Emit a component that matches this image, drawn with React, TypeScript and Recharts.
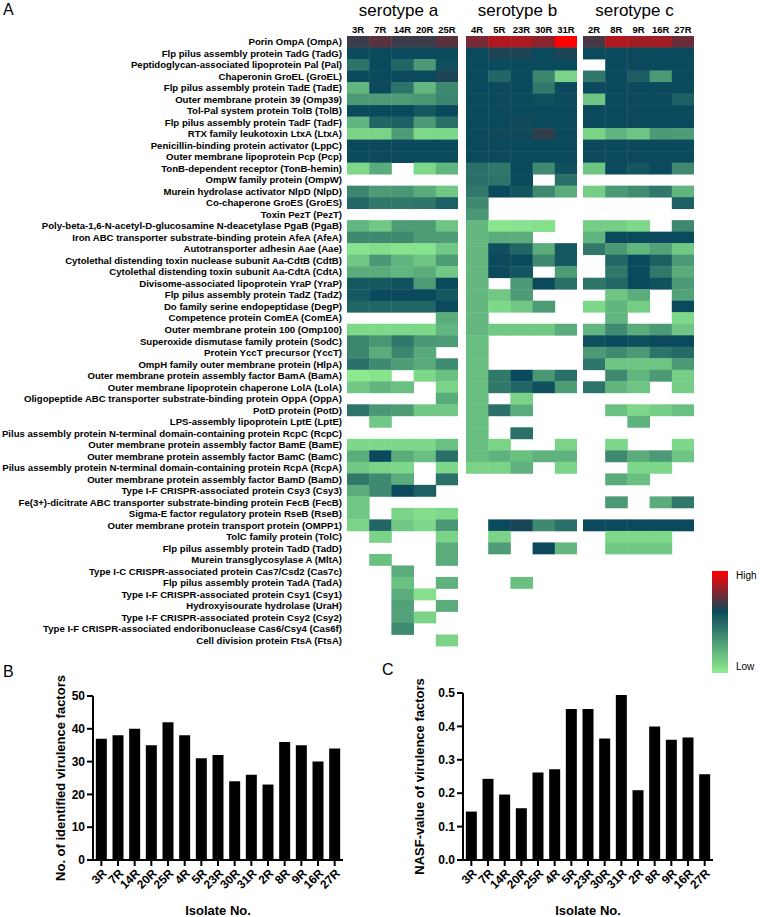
import React from "react";
import { Bar, BarChart, Scatter, ScatterChart, XAxis, YAxis } from "recharts";

const FONT = "'Liberation Sans', Arial, Helvetica, sans-serif";

const proteins = [
  "Porin OmpA (OmpA)",
  "Flp pilus assembly protein TadG (TadG)",
  "Peptidoglycan-associated lipoprotein Pal (Pal)",
  "Chaperonin GroEL (GroEL)",
  "Flp pilus assembly protein TadE (TadE)",
  "Outer membrane protein 39 (Omp39)",
  "Tol-Pal system protein TolB (TolB)",
  "Flp pilus assembly protein TadF (TadF)",
  "RTX family leukotoxin LtxA (LtxA)",
  "Penicillin-binding protein activator (LppC)",
  "Outer membrane lipoprotein Pcp (Pcp)",
  "TonB-dependent receptor (TonB-hemin)",
  "OmpW family protein (OmpW)",
  "Murein hydrolase activator NlpD (NlpD)",
  "Co-chaperone GroES (GroES)",
  "Toxin PezT (PezT)",
  "Poly-beta-1,6-N-acetyl-D-glucosamine N-deacetylase PgaB (PgaB)",
  "Iron ABC transporter substrate-binding protein AfeA (AfeA)",
  "Autotransporter adhesin Aae (Aae)",
  "Cytolethal distending toxin nuclease subunit Aa-CdtB (CdtB)",
  "Cytolethal distending toxin subunit Aa-CdtA (CdtA)",
  "Divisome-associated lipoprotein YraP (YraP)",
  "Flp pilus assembly protein TadZ (TadZ)",
  "Do family serine endopeptidase (DegP)",
  "Competence protein ComEA (ComEA)",
  "Outer membrane protein 100 (Omp100)",
  "Superoxide dismutase family protein (SodC)",
  "Protein YccT precursor (YccT)",
  "OmpH family outer membrane protein (HlpA)",
  "Outer membrane protein assembly factor BamA (BamA)",
  "Outer membrane lipoprotein chaperone LolA (LolA)",
  "Oligopeptide ABC transporter substrate-binding protein OppA (OppA)",
  "PotD protein (PotD)",
  "LPS-assembly lipoprotein LptE (LptE)",
  "Pilus assembly protein N-terminal domain-containing protein RcpC (RcpC)",
  "Outer membrane protein assembly factor BamE (BamE)",
  "Outer membrane protein assembly factor BamC (BamC)",
  "Pilus assembly protein N-terminal domain-containing protein RcpA (RcpA)",
  "Outer membrane protein assembly factor BamD (BamD)",
  "Type I-F CRISPR-associated protein Csy3 (Csy3)",
  "Fe(3+)-dicitrate ABC transporter substrate-binding protein FecB (FecB)",
  "Sigma-E factor regulatory protein RseB (RseB)",
  "Outer membrane protein transport protein (OMPP1)",
  "TolC family protein (TolC)",
  "Flp pilus assembly protein TadD (TadD)",
  "Murein transglycosylase A (MltA)",
  "Type I-C CRISPR-associated protein Cas7/Csd2 (Cas7c)",
  "Flp pilus assembly protein TadA (TadA)",
  "Type I-F CRISPR-associated protein Csy1 (Csy1)",
  "Hydroxyisourate hydrolase (UraH)",
  "Type I-F CRISPR-associated protein Csy2 (Csy2)",
  "Type I-F CRISPR-associated endoribonuclease Cas6/Csy4 (Cas6f)",
  "Cell division protein FtsA (FtsA)",
];

const serotypeNames = ["serotype a", "serotype b", "serotype c"];
const isolatesA = ["3R", "7R", "14R", "20R", "25R"];
const isolatesB = ["4R", "5R", "23R", "30R", "31R"];
const isolatesC = ["2R", "8R", "9R", "16R", "27R"];

// relative abundance, 0 = low (light green) ... 1 = high (red); null = not detected
const _ = null;
const valuesA = [
  [0.68, 0.73, 0.68, 0.68, 0.73],
  [0.6, 0.6, 0.6, 0.6, 0.6],
  [0.45, 0.6, 0.5, 0.31, 0.58],
  [0.6, 0.6, 0.6, 0.6, 0.63],
  [0.21, 0.6, 0.45, 0.2, 0.37],
  [0.31, 0.3, 0.3, 0.32, 0.38],
  [0.6, 0.6, 0.6, 0.55, 0.6],
  [0.21, 0.5, 0.52, 0.31, 0.46],
  [0.1, 0.1, 0.3, 0.08, 0.08],
  [0.6, 0.6, 0.6, 0.6, 0.6],
  [0.6, 0.6, 0.6, 0.6, 0.6],
  [0.08, 0.24, _, 0.08, 0.21],
  [_, _, _, _, _],
  [0.38, 0.3, 0.32, 0.24, 0.14],
  [0.49, 0.43, 0.43, 0.44, 0.52],
  [_, _, _, _, _],
  [0.21, 0.14, 0.3, 0.3, 0.15],
  [0.37, 0.37, 0.37, 0.3, 0.3],
  [0.04, 0.06, 0.04, 0.04, 0.14],
  [0.14, 0.32, 0.21, 0.15, 0.3],
  [0.24, 0.24, 0.21, 0.24, 0.14],
  [0.55, 0.55, 0.57, 0.3, 0.6],
  [0.55, 0.6, 0.6, 0.6, 0.55],
  [0.5, 0.5, 0.5, 0.5, 0.6],
  [_, _, _, _, 0.24],
  [0.08, 0.08, 0.08, 0.08, 0.21],
  [0.38, 0.32, 0.43, 0.32, 0.3],
  [0.38, 0.24, 0.38, 0.25, _],
  [0.46, 0.37, 0.3, 0.25, 0.36],
  [0.02, 0.04, _, 0.08, 0.17],
  [0.14, 0.21, 0.17, _, 0.1],
  [_, _, _, _, 0.24],
  [0.45, 0.32, 0.3, 0.14, 0.14],
  [_, 0.14, _, _, _],
  [_, _, _, _, _],
  [0.08, 0.08, 0.08, 0.08, 0.17],
  [0.24, 0.6, 0.24, 0.17, 0.46],
  [0.14, 0.1, 0.08, _, 0.08],
  [0.43, 0.37, 0.24, _, 0.46],
  [0.24, 0.37, 0.6, 0.52, _],
  [0.14, _, _, _, _],
  [0.14, _, 0.1, 0.06, 0.08],
  [0.1, 0.5, 0.14, 0.08, 0.32],
  [_, 0.1, _, _, 0.1],
  [_, _, _, _, 0.24],
  [_, 0.17, _, _, 0.24],
  [_, _, 0.24, _, _],
  [_, _, 0.17, _, 0.22],
  [_, _, 0.24, 0.05, _],
  [_, _, 0.28, _, 0.24],
  [_, _, 0.28, 0.1, _],
  [_, _, 0.36, _, _],
  [_, _, _, _, 0.1],
];
const valuesB = [
  [0.78, 0.87, 0.86, 0.81, 1.0],
  [0.6, 0.63, 0.63, 0.6, 0.63],
  [0.6, 0.6, 0.6, 0.6, 0.6],
  [0.6, 0.5, 0.6, 0.38, 0.1],
  [0.6, 0.6, 0.6, 0.43, 0.6],
  [0.6, 0.6, 0.6, 0.58, 0.6],
  [0.6, 0.6, 0.6, 0.6, 0.6],
  [0.6, 0.6, 0.61, 0.6, 0.6],
  [0.6, 0.61, 0.61, 0.66, 0.6],
  [0.6, 0.6, 0.6, 0.6, 0.6],
  [0.6, 0.6, 0.6, 0.6, 0.6],
  [0.46, 0.43, 0.6, 0.37, 0.58],
  [0.46, 0.45, 0.6, _, 0.46],
  [0.43, 0.6, 0.56, 0.37, 0.24],
  [0.37, _, _, _, _],
  [0.32, _, _, _, _],
  [0.2, 0.03, 0.04, 0.05, _],
  [0.2, 0.24, 0.24, _, _],
  [0.2, 0.58, 0.5, 0.24, 0.55],
  [0.2, 0.6, 0.6, 0.37, 0.55],
  [0.2, 0.6, 0.56, _, 0.3],
  [0.2, _, 0.31, 0.6, 0.46],
  [0.2, 0.14, 0.3, _, _],
  [0.2, 0.08, 0.14, 0.3, _],
  [0.2, _, _, _, _],
  [0.2, 0.14, 0.14, 0.14, 0.24],
  [0.18, _, _, _, _],
  [0.18, _, _, _, _],
  [0.18, _, _, _, _],
  [0.18, 0.43, 0.6, 0.32, 0.46],
  [0.18, 0.43, 0.5, 0.58, 0.3],
  [0.18, _, 0.1, _, _],
  [0.18, 0.46, 0.24, _, _],
  [0.18, _, _, _, _],
  [0.18, _, 0.46, _, _],
  [0.18, 0.1, _, _, 0.1],
  [0.18, 0.22, 0.17, 0.22, 0.22],
  [0.1, 0.1, 0.22, _, 0.1],
  [_, _, _, _, _],
  [_, _, _, _, _],
  [_, _, _, _, _],
  [_, _, _, _, _],
  [_, 0.6, 0.62, 0.37, 0.46],
  [_, 0.1, _, _, _],
  [_, 0.3, _, 0.6, 0.2],
  [_, _, _, _, _],
  [_, _, _, _, _],
  [_, _, 0.17, _, _],
  [_, _, _, _, _],
  [_, _, _, _, _],
  [_, _, _, _, _],
  [_, _, _, _, _],
  [_, _, _, _, _],
];
const valuesC = [
  [0.7, 0.87, 0.845, 0.845, 0.755],
  [0.6, 0.6, 0.6, 0.6, 0.6],
  [_, 0.6, 0.6, 0.6, 0.6],
  [0.43, 0.6, 0.53, 0.31, 0.6],
  [0.6, 0.6, 0.6, 0.6, 0.6],
  [0.15, 0.6, 0.6, 0.6, 0.52],
  [0.6, 0.6, 0.6, 0.6, 0.6],
  [0.6, 0.6, 0.6, 0.6, 0.6],
  [0.1, 0.21, 0.15, 0.31, 0.3],
  [0.6, 0.6, 0.6, 0.6, 0.6],
  [0.6, 0.6, 0.6, 0.6, 0.6],
  [0.15, 0.6, 0.56, 0.6, 0.37],
  [_, _, _, _, _],
  [0.12, 0.31, 0.36, 0.43, 0.21],
  [_, _, _, _, 0.52],
  [_, _, _, _, _],
  [0.12, 0.12, 0.08, _, 0.37],
  [0.21, 0.6, 0.6, 0.6, 0.6],
  [0.43, 0.31, 0.21, 0.28, 0.14],
  [_, 0.49, 0.6, 0.52, 0.31],
  [_, 0.43, 0.6, 0.43, 0.24],
  [0.44, 0.49, 0.6, 0.57, 0.31],
  [_, 0.15, 0.24, _, 0.28],
  [0.08, 0.21, 0.12, _, 0.6],
  [_, 0.21, _, _, 0.08],
  [0.21, 0.37, 0.24, 0.31, 0.15],
  [0.58, 0.6, 0.58, 0.6, 0.6],
  [0.31, 0.37, 0.31, 0.45, 0.48],
  [0.44, 0.15, 0.15, 0.15, 0.31],
  [_, 0.37, 0.21, 0.31, 0.12],
  [0.45, 0.21, 0.15, _, 0.12],
  [_, _, _, _, _],
  [_, 0.17, 0.08, 0.12, 0.17],
  [_, _, 0.22, _, _],
  [_, _, _, _, _],
  [_, 0.08, _, _, 0.08],
  [_, 0.37, 0.24, 0.31, 0.15],
  [_, _, 0.08, 0.08, _],
  [_, 0.24, 0.17, _, _],
  [_, _, _, _, _],
  [_, 0.31, _, 0.24, 0.43],
  [_, _, _, _, _],
  [0.6, 0.6, 0.6, 0.6, 0.6],
  [_, 0.08, 0.08, 0.08, _],
  [_, 0.14, 0.14, 0.14, _],
  [_, _, _, _, _],
  [_, _, _, _, _],
  [_, _, _, _, _],
  [_, _, _, _, _],
  [_, _, _, _, _],
  [_, _, _, _, _],
  [_, _, _, _, _],
  [_, _, _, _, _],
];

const isolateOrder = ["3R", "7R", "14R", "20R", "25R", "4R", "5R", "23R", "30R", "31R", "2R", "8R", "9R", "16R", "27R"];
const vfCounts = [37, 38, 40, 35, 42, 38, 31, 32, 24, 26, 23, 36, 35, 30, 34];
const nasfValues = [0.145, 0.243, 0.196, 0.155, 0.262, 0.272, 0.452, 0.452, 0.364, 0.494, 0.209, 0.4, 0.36, 0.367, 0.257];
const countTicks = [0, 10, 20, 30, 40, 50];
const nasfTicks = [0, 0.1, 0.2, 0.3, 0.4, 0.5];

// colour ramp: light green -> dark teal -> red
const ramp: [number, number[]][] = [
  [0, [144, 238, 144]],
  [0.6, [11, 74, 92]],
  [1, [255, 0, 0]],
];
function heatColor(v: number) {
  for (let i = 1; i < ramp.length; i++) {
    const [p0, c0] = ramp[i - 1];
    const [p1, c1] = ramp[i];
    if (v <= p1) {
      const t = (v - p0) / (p1 - p0);
      const c = c0.map((x, k) => Math.round(x + t * (c1[k] - x)));
      return `rgb(${c[0]},${c[1]},${c[2]})`;
    }
  }
  return "rgb(255,0,0)";
}

const PANEL_W = 111;
const HEAT_TOP = 36;
const HEAT_H = 610;
const CELL_W = PANEL_W / 5;
const CELL_H = HEAT_H / proteins.length;
const LABEL_W = 347;

// plain <text> so long protein names are never wrapped
const ProteinTick = (props: any) => (
  <text
    x={props.x}
    y={props.y}
    textAnchor="end"
    dominantBaseline="central"
    fontSize={9.6}
    fontWeight="bold"
    fontFamily={FONT}
    fill="#000"
  >
    {proteins[props.payload.value]}
  </text>
);

function HeatPanel({ isolates, values, left, showLabels }: any) {
  const data: { col: number; row: number; v: number }[] = [];
  values.forEach((row: (number | null)[], r: number) =>
    row.forEach((v, c) => {
      if (v != null) data.push({ col: c, row: r, v });
    })
  );
  const yw = showLabels ? LABEL_W : 0;
  return (
    <div style={{ position: "absolute", left, top: 0 }}>
      <ScatterChart width={yw + PANEL_W} height={HEAT_TOP + HEAT_H + 4} margin={{ top: 20, right: 0, bottom: 4, left: 0 }}>
        <XAxis
          type="number"
          dataKey="col"
          orientation="top"
          domain={[-0.5, 4.5]}
          ticks={[0, 1, 2, 3, 4]}
          interval={0}
          tickFormatter={(i: number) => isolates[i]}
          axisLine={false}
          tickLine={false}
          height={16}
          tickSize={3}
          tickMargin={0}
          tick={{ fontSize: 9.5, fontWeight: "bold", fill: "#000", fontFamily: FONT }}
        />
        <YAxis
          type="number"
          dataKey="row"
          domain={[-0.5, proteins.length - 0.5]}
          reversed
          ticks={proteins.map((_p, i) => i)}
          interval={0}
          hide={!showLabels}
          width={yw}
          axisLine={false}
          tickLine={false}
          tickSize={3}
          tickMargin={2}
          tick={<ProteinTick />}
        />
        <Scatter
          data={data}
          isAnimationActive={false}
          shape={(p: any) => (
            <rect
              x={p.cx - CELL_W / 2}
              y={p.cy - CELL_H / 2}
              width={CELL_W + 0.4}
              height={CELL_H + 0.4}
              fill={heatColor(p.payload.v)}
            />
          )}
        />
      </ScatterChart>
    </div>
  );
}

const barData = isolateOrder.map((iso, i) => ({ iso, count: vfCounts[i], nasf: nasfValues[i] }));

const axisStroke = { stroke: "#000", strokeWidth: 2 };
const tickFont = { fontSize: 12, fontWeight: "bold", fill: "#000", fontFamily: FONT };
const titleStyle = { fontSize: 13, fontWeight: "bold", fill: "#000", fontFamily: FONT, textAnchor: "middle" } as any;

function IsolateBars({ dataKey, ticks, domain, yTitle, yWidth, titleOffset, top, fmt }: any) {
  return (
    <BarChart width={yWidth + 262} height={257} data={barData} margin={{ top, right: 12, bottom: 0, left: 0 }} barCategoryGap="17%">
      <XAxis
        dataKey="iso"
        interval={0}
        height={57}
        axisLine={axisStroke}
        tickLine={axisStroke}
        tickSize={6}
        tick={{ ...tickFont, angle: -45, textAnchor: "end" }}
        label={{ value: "Isolate No.", position: "insideBottom", offset: 2, style: titleStyle }}
      />
      <YAxis
        width={yWidth}
        domain={domain}
        ticks={ticks}
        interval={0}
        tickFormatter={fmt}
        axisLine={axisStroke}
        tickLine={axisStroke}
        tickSize={6}
        tickMargin={2}
        tick={tickFont}
        label={{ value: yTitle, angle: -90, position: "insideLeft", offset: titleOffset, style: titleStyle }}
      />
      <Bar dataKey={dataKey} fill="#000" isAnimationActive={false} />
    </BarChart>
  );
}

const panelLabel = (text: string, left: number, top: number) => (
  <div style={{ position: "absolute", left, top, fontSize: 16, lineHeight: "16px", fontFamily: FONT }}>{text}</div>
);

export default function App() {
  const panelLefts = [LABEL_W, 466, 583];
  return (
    <div style={{ position: "absolute", left: 0, top: 0, width: 760, height: 917, background: "#fff", overflow: "hidden", fontFamily: FONT }}>
      {panelLabel("A", 3, 2)}
      {serotypeNames.map((s, i) => (
        <div
          key={s}
          style={{ position: "absolute", left: panelLefts[i] - 4, top: 2, width: PANEL_W, textAlign: "center", fontSize: 17, lineHeight: "18px" }}
        >
          {s}
        </div>
      ))}
      <HeatPanel isolates={isolatesA} values={valuesA} left={0} showLabels />
      <HeatPanel isolates={isolatesB} values={valuesB} left={466} />
      <HeatPanel isolates={isolatesC} values={valuesC} left={583} />

      {/* colour key */}
      <div
        style={{
          position: "absolute",
          left: 712,
          top: 571,
          width: 16,
          height: 102,
          background: "linear-gradient(to bottom, #ff0000 0%, #0b4a5c 40%, #90ee90 100%)",
        }}
      />
      <div style={{ position: "absolute", left: 736, top: 571, fontSize: 10, lineHeight: "10px" }}>High</div>
      <div style={{ position: "absolute", left: 736, top: 662, fontSize: 10, lineHeight: "10px" }}>Low</div>

      <div style={{ position: "absolute", left: 0, top: 660 }}>
        <IsolateBars
          dataKey="count"
          ticks={countTicks}
          domain={[0, 50]}
          yTitle="No. of identified virulence factors"
          yWidth={93}
          titleOffset={60}
          top={36}
        />
      </div>
      <div style={{ position: "absolute", left: 380, top: 660 }}>
        <IsolateBars
          dataKey="nasf"
          ticks={nasfTicks}
          domain={[0, 0.5]}
          yTitle="NASF-value of virulence factors"
          yWidth={83}
          titleOffset={39}
          top={33}
          fmt={(v: number) => v.toFixed(1)}
        />
      </div>
      {panelLabel("B", 3, 664)}
      {panelLabel("C", 382, 662)}
    </div>
  );
}
